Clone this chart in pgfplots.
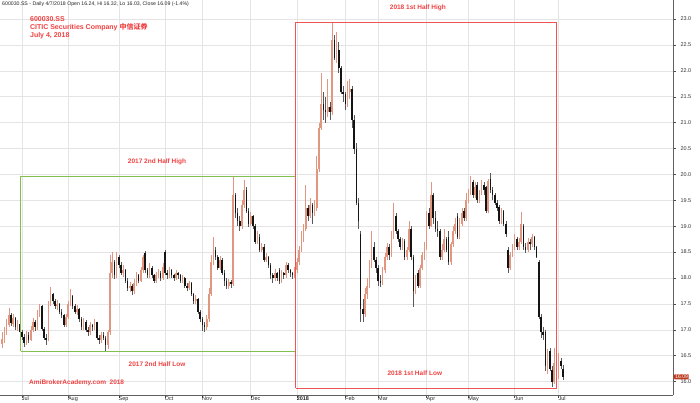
\documentclass[border=0pt]{standalone}
\usepackage{pgfplots}
\pgfplotsset{compat=1.18}
\usepackage{pgfplotstable}
\usepackage{fontspec}
\setmainfont{Liberation Sans}
\newfontfamily\cjk{Noto Sans CJK SC}
\usetikzlibrary{shapes.symbols}
\definecolor{upcol}{RGB}{226,150,128}
\definecolor{dncol}{RGB}{20,20,20}
\definecolor{annred}{RGB}{240,64,64}
\definecolor{boxgreen}{RGB}{130,190,80}
\definecolor{boxred}{RGB}{238,84,84}
\definecolor{gridc}{RGB}{228,228,228}
\definecolor{tagc}{RGB}{190,60,30}

\pgfplotstableread{
i o h l c
-9 16.72 16.95 16.65 16.82
-8 16.82 17.05 16.75 16.98
-7 16.98 17.20 16.90 17.12
-6 17.10 17.42 17.05 17.28
-4 17.12 17.30 17.05 17.22
-2 17.04 17.18 16.98 17.12
2 16.74 16.98 16.70 16.90
4 16.80 17.08 16.78 17.00
5 17.00 17.22 16.95 17.15
7 17.05 17.38 17.00 17.30
8 17.30 17.50 17.25 17.45
12 16.80 17.55 16.78 17.50
13 17.50 17.82 17.45 17.70
16 17.45 17.58 17.38 17.50
20 17.10 17.30 17.05 17.25
21 17.25 17.55 17.20 17.50
22 17.50 17.78 17.45 17.65
25 17.35 17.48 17.28 17.40
28 17.05 17.22 17.00 17.15
31 16.95 17.15 16.90 17.10
33 17.05 17.20 17.00 17.15
36 16.80 16.95 16.75 16.90
39 16.70 17.00 16.62 16.95
40 16.95 18.45 16.90 18.10
41 18.10 18.50 18.00 18.30
43 18.05 18.50 18.00 18.40
46 18.10 18.25 18.02 18.15
49 17.80 17.92 17.72 17.85
51 17.75 17.98 17.70 17.90
52 17.90 18.12 17.85 18.05
54 17.95 18.22 17.92 18.15
55 18.15 18.45 18.10 18.40
58 18.05 18.28 18.00 18.20
61 17.95 18.12 17.90 18.05
62 18.05 18.18 18.00 18.10
64 18.00 18.28 17.96 18.22
67 18.05 18.22 18.00 18.15
70 18.00 18.15 17.96 18.10
73 17.95 18.06 17.90 18.00
76 17.80 17.95 17.76 17.90
79 17.55 17.68 17.50 17.60
84 17.05 17.28 17.00 17.20
85 17.20 17.80 17.15 17.70
86 17.70 18.45 17.65 18.30
87 18.30 18.80 18.25 18.55
90 18.20 18.42 18.15 18.35
94 17.85 17.98 17.78 17.92
96 17.88 19.96 17.85 19.60
100 19.00 19.50 18.95 19.40
101 19.40 19.90 19.35 19.70
104 19.05 19.28 19.00 19.20
107 18.70 18.90 18.65 18.80
109 18.55 18.68 18.50 18.60
111 18.35 18.48 18.30 18.40
115 18.00 18.18 17.95 18.10
118 17.95 18.15 17.90 18.10
120 18.05 18.30 18.00 18.25
124 18.05 18.22 18.00 18.15
125 18.15 18.38 18.10 18.30
126 18.30 18.62 18.25 18.55
127 18.55 18.90 18.50 18.75
128 18.75 19.05 18.70 18.95
129 18.95 19.80 18.90 19.35
131 19.20 19.55 19.15 19.40
133 19.25 19.50 19.20 19.35
134 19.35 20.35 19.30 20.10
135 20.10 21.00 20.05 20.90
136 20.90 21.95 20.85 21.35
139 21.20 21.85 21.10 21.30
141 21.20 22.94 21.15 22.60
143 22.25 22.75 22.15 22.40
148 21.35 21.80 21.30 21.60
149 21.60 21.85 21.45 21.65
156 17.30 17.80 17.25 17.70
157 17.70 18.00 17.60 17.85
158 17.85 18.35 17.80 18.25
159 18.25 18.90 18.20 18.60
164 17.90 18.22 17.86 18.15
165 18.15 18.48 18.10 18.40
166 18.40 18.68 18.35 18.60
168 18.45 18.90 18.40 18.80
169 18.80 19.45 18.75 19.20
173 18.60 18.78 18.55 18.70
175 18.40 18.60 18.35 18.55
176 18.55 19.10 18.50 18.95
179 17.75 18.05 17.70 17.95
181 17.85 18.25 17.80 18.20
182 18.20 18.50 18.15 18.45
183 18.45 18.70 18.35 18.60
184 18.60 19.30 18.55 19.20
186 19.00 19.85 18.98 19.60
191 18.40 18.65 18.35 18.55
192 18.55 18.95 18.50 18.75
195 18.30 18.70 18.25 18.65
196 18.65 19.00 18.60 18.90
197 18.90 19.15 18.85 19.05
199 18.80 19.15 18.75 19.05
200 19.05 19.35 19.00 19.25
202 19.15 19.64 19.10 19.50
203 19.50 19.72 19.45 19.65
204 19.65 19.97 19.60 19.85
206 19.60 19.85 19.55 19.75
208 19.50 19.70 19.45 19.65
209 19.65 19.90 19.60 19.80
212 19.30 19.92 19.25 19.88
218 19.10 19.35 19.05 19.30
222 18.20 18.50 18.15 18.45
223 18.45 18.65 18.40 18.60
224 18.60 18.85 18.55 18.75
226 18.60 18.78 18.55 18.70
227 18.70 19.28 18.65 19.05
230 18.55 18.78 18.50 18.70
232 18.65 18.85 18.60 18.80
239 16.30 16.62 16.15 16.55
242 16.00 16.65 15.95 16.35
244 16.10 16.55 16.05 16.40
}\updata

\pgfplotstableread{
i o h l c
-5 17.28 17.32 17.08 17.14
-3 17.22 17.25 17.00 17.05
-1 17.12 17.15 16.90 16.95
0 16.95 17.00 16.80 16.86
1 16.86 16.92 16.67 16.74
3 16.90 16.95 16.75 16.80
6 17.15 17.18 16.98 17.05
9 17.45 17.48 16.98 17.02
10 17.02 17.05 16.80 16.85
11 16.85 16.92 16.70 16.80
14 17.70 17.72 17.50 17.55
15 17.55 17.60 17.40 17.45
17 17.50 17.52 17.30 17.35
18 17.35 17.40 17.22 17.28
19 17.28 17.30 17.05 17.10
23 17.65 17.68 17.40 17.45
24 17.45 17.50 17.30 17.35
26 17.40 17.42 17.15 17.20
27 17.20 17.24 17.00 17.05
29 17.15 17.18 16.95 17.00
30 17.00 17.05 16.88 16.95
32 17.10 17.12 16.98 17.05
34 17.15 17.16 16.80 16.85
35 16.85 16.90 16.72 16.80
37 16.90 16.95 16.80 16.85
38 16.85 16.88 16.59 16.70
42 18.30 18.35 17.98 18.05
44 18.40 18.45 18.20 18.25
45 18.25 18.30 18.05 18.10
47 18.15 18.18 17.90 17.95
48 17.95 18.00 17.75 17.80
50 17.85 17.88 17.68 17.75
53 18.05 18.08 17.90 17.95
56 18.48 18.52 18.10 18.15
57 18.15 18.20 18.00 18.05
59 18.20 18.24 18.00 18.05
60 18.05 18.08 17.90 17.95
63 18.10 18.14 17.95 18.00
65 18.50 18.54 18.05 18.10
66 18.10 18.15 17.98 18.05
68 18.15 18.18 18.00 18.05
69 18.05 18.08 17.95 18.00
71 18.10 18.12 17.98 18.05
72 18.05 18.08 17.90 17.95
74 18.00 18.02 17.80 17.85
75 17.85 17.90 17.75 17.80
77 17.90 17.92 17.65 17.70
78 17.70 17.72 17.50 17.55
80 17.60 17.62 17.30 17.35
81 17.35 17.38 17.15 17.20
82 17.20 17.25 16.98 17.10
83 17.10 17.15 16.95 17.05
88 18.55 18.60 18.35 18.40
89 18.40 18.45 18.15 18.20
91 18.35 18.38 18.05 18.10
92 18.10 18.15 17.85 17.95
93 17.95 18.00 17.78 17.85
95 17.92 17.96 17.80 17.88
97 19.60 19.65 19.15 19.25
98 19.25 19.35 19.00 19.10
99 19.10 19.20 18.90 19.00
102 19.70 19.75 19.25 19.30
103 19.30 19.35 18.98 19.05
105 19.20 19.22 18.95 19.00
106 19.00 19.05 18.65 18.70
108 18.80 18.85 18.50 18.55
110 18.60 18.65 18.30 18.35
112 18.40 18.42 18.20 18.25
113 18.25 18.28 17.98 18.05
114 18.05 18.10 17.90 18.00
116 18.10 18.12 17.95 18.00
117 18.15 18.20 17.88 17.95
119 18.10 18.12 17.98 18.05
121 18.25 18.28 18.10 18.15
122 18.15 18.18 18.02 18.10
123 18.10 18.12 17.98 18.05
130 19.35 19.40 19.10 19.20
132 19.40 19.45 19.05 19.25
137 21.35 21.60 21.05 21.25
138 21.25 21.50 21.00 21.20
140 21.30 21.40 21.05 21.20
142 22.60 22.70 22.20 22.25
144 22.40 22.55 21.95 22.05
145 22.05 22.10 21.55 21.60
146 21.60 21.70 21.40 21.55
147 21.55 21.60 21.25 21.35
150 21.65 21.70 20.90 21.05
151 21.05 21.15 20.40 20.50
152 20.50 20.60 19.40 19.45
153 19.45 19.55 18.95 19.10
154 18.85 18.90 17.15 17.40
155 17.40 17.60 17.15 17.30
160 18.60 18.70 18.30 18.35
161 18.35 18.40 18.10 18.20
162 18.20 18.25 17.85 17.95
163 17.95 18.05 17.83 17.90
167 18.60 18.65 18.35 18.45
170 19.20 19.25 18.85 18.90
171 18.90 18.95 18.70 18.75
172 18.75 18.80 18.55 18.60
174 18.72 18.75 18.35 18.40
177 18.95 19.00 18.35 18.40
178 18.40 18.45 17.44 17.75
180 18.10 18.15 17.80 17.85
185 19.25 19.35 18.95 19.00
187 19.60 19.65 19.05 19.15
188 19.15 19.30 18.88 18.95
189 18.95 19.10 18.80 18.90
190 18.90 18.95 18.35 18.40
193 18.75 18.80 18.50 18.55
194 18.80 18.90 18.25 18.30
198 19.20 19.25 18.75 18.80
201 19.30 19.35 19.10 19.15
205 19.85 19.90 19.55 19.60
207 19.80 19.85 19.45 19.50
210 19.80 19.85 19.60 19.70
211 19.75 19.78 19.25 19.30
213 19.92 20.02 19.65 19.70
214 19.70 19.75 19.50 19.60
215 19.60 19.65 19.40 19.45
216 19.45 19.50 19.30 19.35
217 19.37 19.40 19.05 19.10
219 19.30 19.32 19.00 19.05
220 19.05 19.10 18.80 18.85
221 18.55 18.60 18.10 18.20
225 18.75 18.80 18.55 18.60
228 19.00 19.05 18.55 18.60
229 18.60 18.68 18.48 18.55
231 18.70 18.75 18.55 18.65
233 18.80 18.82 18.55 18.60
234 18.60 18.62 18.38 18.40
235 18.30 18.35 17.20 17.25
236 17.25 17.30 16.85 16.95
237 16.95 17.05 16.80 16.90
238 16.95 17.00 16.20 16.30
240 16.60 16.65 16.20 16.25
241 16.22 16.30 15.90 16.00
243 16.35 16.40 16.00 16.10
245 16.40 16.45 16.25 16.30
246 16.24 16.32 16.03 16.09
}\dndata

\begin{document}
\begin{tikzpicture}
\begin{axis}[
  scale only axis, width=673pt, height=395pt,
  at={(0pt,7pt)}, anchor=south west,
  xmin=-10, xmax=296, ymin=15.741, ymax=23.367,
  axis x line*=bottom, axis y line*=right,
  axis line style={draw=gray!75!black, line width=0.8pt},
  tick align=outside, major tick length=2.5pt,
  tick style={draw=gray!60!black, line width=0.4pt},
  grid=major, major grid style={draw=gridc, line width=0.5pt},
  xtick={0,21,44,65,82,104,125,147,162,184,203,224,244},
  xticklabels={Jul,Aug,Sep,Oct,Nov,Dec,\textbf{2018},Feb,Mar,Apr,May,Jun,Jul},
  xticklabel style={anchor=north west, xshift=-0.8pt, yshift=1.8pt, inner sep=0.5pt, font=\fontsize{5.5}{6}\selectfont, text=gray!30!black},
  ytick={16,16.5,17,17.5,18,18.5,19,19.5,20,20.5,21,21.5,22,22.5,23},
  yticklabel style={font=\fontsize{5.5}{6}\selectfont, text=gray!40!black, xshift=1.5pt,
    /pgf/number format/.cd, fixed, fixed zerofill, precision=1, assume math mode=true},
  clip=false,
]
% wicks
\addplot[draw=none, mark=none, forget plot,
  error bars/.cd, y dir=both, y explicit, error mark=none,
  error bar style={draw=upcol, line width=0.5pt}]
  table[x=i, y expr={(\thisrow{h}+\thisrow{l})/2}, y error expr={(\thisrow{h}-\thisrow{l})/2}] {\updata};
\addplot[draw=none, mark=none, forget plot,
  error bars/.cd, y dir=both, y explicit, error mark=none,
  error bar style={draw=gray!70!black, line width=0.5pt}]
  table[x=i, y expr={(\thisrow{h}+\thisrow{l})/2}, y error expr={(\thisrow{h}-\thisrow{l})/2}] {\dndata};
% bodies
\addplot[draw=none, mark=none, forget plot,
  error bars/.cd, y dir=both, y explicit, error mark=none,
  error bar style={draw=upcol, line width=1.6pt}]
  table[x=i, y expr={(\thisrow{o}+\thisrow{c})/2}, y error expr={abs(\thisrow{c}-\thisrow{o})/2}] {\updata};
\addplot[draw=none, mark=none, forget plot,
  error bars/.cd, y dir=both, y explicit, error mark=none,
  error bar style={draw=dncol, line width=1.6pt}]
  table[x=i, y expr={(\thisrow{o}+\thisrow{c})/2}, y error expr={abs(\thisrow{c}-\thisrow{o})/2}] {\dndata};
% boxes
\addplot[boxgreen, line width=0.8pt, mark=none, line join=miter] coordinates {(-0.5,16.59) (124.5,16.59) (124.5,19.96) (-0.5,19.96) (-0.5,16.59)};
\addplot[boxred, line width=0.8pt, mark=none, line join=miter] coordinates {(124.5,15.87) (243.2,15.87) (243.2,22.94) (124.5,22.94) (124.5,15.87)};
% texts
\node[anchor=west, font=\fontsize{5.2}{6}\selectfont, text=gray!30!black, inner sep=0pt] at (rel axis cs:0.003,0.99) {600030.SS - Daily 4/7/2018 Open 16.24, Hi 16.32, Lo 16.03, Close 16.09 (-1.4\%)};
\node[anchor=north west, align=left, font=\bfseries\fontsize{7}{8.2}\selectfont, text=annred, inner sep=0pt] at (axis cs:3.6,23.05) {600030.SS\\CITIC Securities Company {\cjk 中信证券}\\July 4, 2018};
\node[font=\bfseries\fontsize{6.5}{7}\selectfont, text=annred] at (axis cs:61.4,20.24) {2017 2nd Half High};
\node[font=\bfseries\fontsize{6.5}{7}\selectfont, text=annred] at (axis cs:61.4,16.34) {2017 2nd Half Low};
\node[font=\bfseries\fontsize{6.5}{7}\selectfont, text=annred] at (axis cs:180,23.21) {2018 1st Half High};
\node[font=\bfseries\fontsize{6.5}{7}\selectfont, text=annred] at (axis cs:178.6,16.17) {2018 1st Half Low};
\node[anchor=west, font=\bfseries\fontsize{6.5}{7}\selectfont, text=annred, inner sep=0pt] at (axis cs:3.2,15.97) {AmiBrokerAcademy.com\ \ 2018};
\node[signal, signal to=west, signal pointer angle=120, fill=tagc, text=white, font=\fontsize{5}{5}\selectfont, inner sep=0.7pt, anchor=west] at (axis cs:296,16.09) {16.09};
\end{axis}
\pgfresetboundingbox
\path[use as bounding box] (0pt,0pt) rectangle (700pt,402pt);
\end{tikzpicture}
\end{document}
